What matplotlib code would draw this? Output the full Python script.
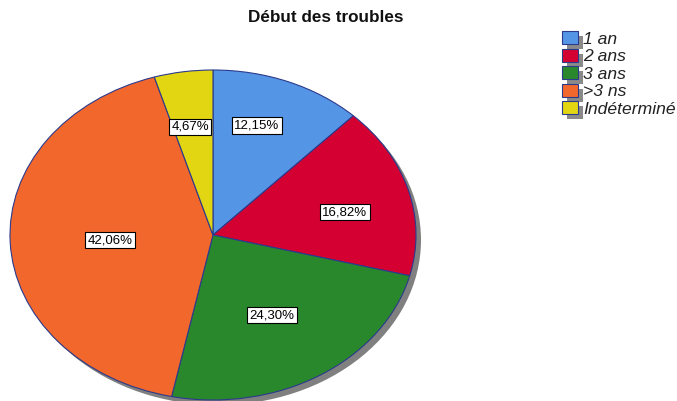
import matplotlib
matplotlib.use("Agg")
import matplotlib.pyplot as plt
from matplotlib.patches import Ellipse, Rectangle
import numpy as np

plt.rcParams['font.family'] = ['Liberation Sans', 'DejaVu Sans']

categories = ["1 an", "2 ans", "3 ans", ">3 ns", "Indéterminé"]
percentages = [12.15, 16.82, 24.30, 42.06, 4.67]
colors = ["#5595e6", "#d50032", "#2a882c", "#f2672b", "#e1d611"]
label_radius = [0.70, 0.665, 0.566, 0.508, 0.665]
label_shift_deg = [3.8, -3.9, -1.0, 0.9, 1.4]

W, H = 677, 401
fig = plt.figure(figsize=(W / 100, H / 100), dpi=100)

# pie geometry in pixels (elliptical pie)
cx, cy = 213, 235
rx, ry = 203, 165
left_px, right_px = 0, 450
top_px, bottom_px = 55, 401
ax = fig.add_axes([left_px / W, (H - bottom_px) / H,
                   (right_px - left_px) / W, (bottom_px - top_px) / H])

wedges, _ = ax.pie(percentages, colors=colors, startangle=90, counterclock=False,
                   wedgeprops=dict(edgecolor="#2b3a8c", linewidth=0.8))
ax.set_aspect('auto')
ax.set_xlim((left_px - cx) / rx, (right_px - cx) / rx)
ax.set_ylim((cy - bottom_px) / ry, (cy - top_px) / ry)

# drop shadow behind the pie
shadow = Ellipse((5 / rx, -5 / ry), 2, 2, facecolor="#808080", edgecolor="none", zorder=0)
ax.add_patch(shadow)
for w in wedges:
    w.set_zorder(1)

# percentage labels in boxes
for w, pct, r, d in zip(wedges, percentages, label_radius, label_shift_deg):
    mid = np.deg2rad((w.theta1 + w.theta2) / 2 + d)
    x, y = r * np.cos(mid), r * np.sin(mid)
    ax.text(x, y, f"{pct:.2f}%".replace(".", ","), ha="center", va="center",
            fontsize=9.5, color="black", zorder=5,
            bbox=dict(boxstyle="square,pad=0.18", facecolor="white",
                      edgecolor="black", linewidth=0.8))

fig.text(326 / W, 1 - 18 / H, "Début des troubles", ha="center", va="center",
         fontsize=12.3, fontweight="bold", color="#111111")

# legend with shadowed swatches
lx, ly0, step, sqw, sqh = 562, 31, 17.6, 16, 13
for i, (lab, col) in enumerate(zip(categories, colors)):
    y = ly0 + i * step
    fig.patches.append(Rectangle(((lx + 5) / W, 1 - (y + sqh + 5) / H), sqw / W, sqh / H,
                                 transform=fig.transFigure, facecolor="#8a8a8a",
                                 edgecolor="none", zorder=1))
    fig.patches.append(Rectangle((lx / W, 1 - (y + sqh) / H), sqw / W, sqh / H,
                                 transform=fig.transFigure, facecolor=col,
                                 edgecolor="#2b3a8c", linewidth=0.8, zorder=2))
    fig.text((lx + 21) / W, 1 - (y + sqh / 2 + 1.5) / H, lab, ha="left", va="center",
             fontsize=12.6, fontstyle="italic", color="#222222", zorder=3)

fig.savefig("out.png", dpi=100)
